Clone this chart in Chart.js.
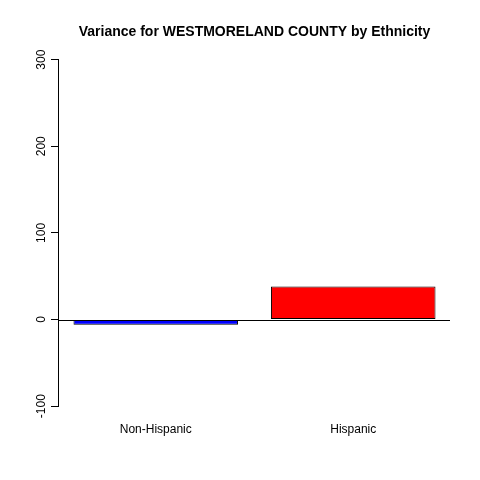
<!DOCTYPE html>
<html>
<head>
<meta charset="utf-8">
<script src="https://cdn.jsdelivr.net/npm/chart.js@4/dist/chart.umd.min.js"></script>
<style>
  html, body { margin: 0; padding: 0; background: #ffffff; }
  #wrap { width: 480px; height: 480px; }
</style>
</head>
<body>
<div id="wrap"><canvas id="c" width="480" height="480"></canvas></div>
<script>
const titleText = 'Variance for WESTMORELAND COUNTY by Ethnicity';
const categories = ['Non-Hispanic', 'Hispanic'];
const values = [-6, 38];
const barColors = ['#0000FF', '#FF0000'];
const yTicks = [-100, 0, 100, 200, 300];

// R barplot geometry: width 1, space 0.2
const positions = categories.map((c, i) => 0.7 + i * 1.2);
const points = values.map((v, i) => ({ x: positions[i], y: v }));

const FONT = '"Liberation Sans", Arial, sans-serif';

const extras = {
  id: 'extras',
  afterDatasetsDraw(chart) {
    const ctx = chart.ctx, y = chart.scales.y, a = chart.chartArea;
    ctx.save();
    ctx.strokeStyle = '#000';
    ctx.lineWidth = 1;
    // abline h = 0
    const y0 = Math.round(y.getPixelForValue(0)) + 0.5;
    ctx.beginPath();
    ctx.moveTo(a.left, y0);
    ctx.lineTo(a.right, y0);
    ctx.stroke();
    // y axis line from first to last tick
    const xl = Math.round(a.left) - 0.5;
    ctx.beginPath();
    ctx.moveTo(xl, y.getPixelForValue(yTicks[0]));
    ctx.lineTo(xl, y.getPixelForValue(yTicks[yTicks.length - 1]));
    ctx.stroke();
    // rotated y tick labels
    ctx.fillStyle = '#000';
    ctx.font = '12px ' + FONT;
    ctx.textAlign = 'center';
    ctx.textBaseline = 'middle';
    y.ticks.forEach(t => {
      const py = y.getPixelForValue(t.value);
      ctx.save();
      ctx.translate(42, py);
      ctx.rotate(-Math.PI / 2);
      ctx.fillText(String(t.value), 0, 0);
      ctx.restore();
    });
    ctx.restore();
  }
};

new Chart(document.getElementById('c'), {
  type: 'bar',
  data: {
    datasets: [{
      data: points,
      backgroundColor: barColors,
      borderColor: '#000',
      borderWidth: 1,
      borderSkipped: false,
      categoryPercentage: 1,
      barPercentage: 1 / 1.2
    }]
  },
  options: {
    responsive: false,
    animation: false,
    layout: { padding: { left: 0, right: 30, top: 0, bottom: 0 } },
    plugins: {
      legend: { display: false },
      tooltip: { enabled: false },
      title: {
        display: true,
        text: titleText,
        fullSize: false,
        color: '#000',
        font: { family: FONT, size: 14, weight: 'bold', lineHeight: 1.2 },
        padding: { top: 24, bottom: 5 }
      }
    },
    scales: {
      x: {
        type: 'linear',
        min: 0.112,
        max: 2.488,
        offset: false,
        border: { display: false },
        grid: { display: false, drawTicks: false, offset: false },
        afterBuildTicks: s => { s.ticks = positions.map(p => ({ value: p })); },
        afterFit: s => { s.height = 60; },
        ticks: {
          autoSkip: false,
          maxRotation: 0,
          minRotation: 0,
          padding: 2,
          color: '#000',
          font: { family: FONT, size: 12 },
          callback: (v, i) => categories[i]
        }
      },
      y: {
        min: -116,
        max: 316,
        border: { display: false },
        grid: { display: true, drawOnChartArea: false, drawTicks: true, tickLength: 8, color: '#000', lineWidth: 1 },
        afterBuildTicks: s => { s.ticks = yTicks.map(v => ({ value: v })); },
        afterFit: s => { s.width = 59; },
        ticks: { display: false }
      }
    }
  },
  plugins: [extras]
});
</script>
</body>
</html>
